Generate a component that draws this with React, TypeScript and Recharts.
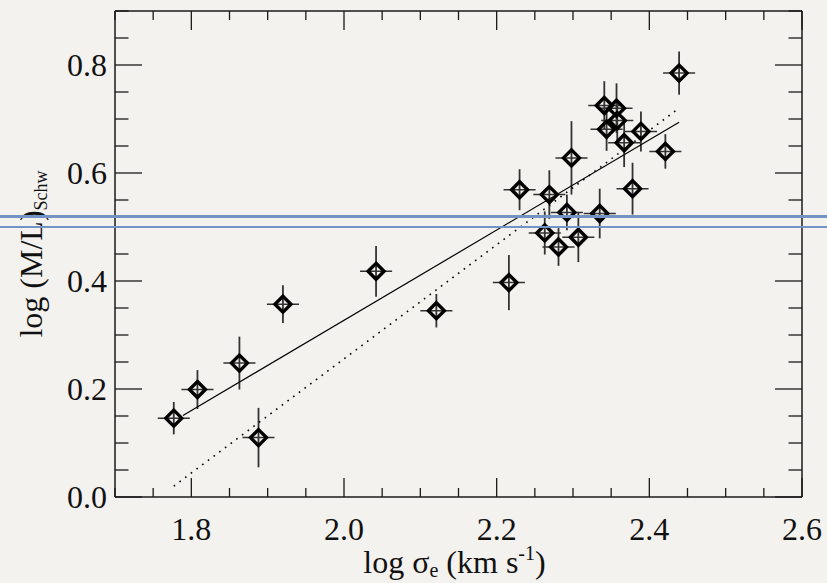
import { ScatterChart, Scatter, XAxis, YAxis, ErrorBar } from 'recharts';

// log sigma_e and log (M/L)_Schw
const logSigma = [1.777, 1.808, 1.863, 1.888, 1.92, 2.042, 2.121, 2.216, 2.23, 2.269, 2.263, 2.281, 2.292, 2.298, 2.307, 2.335, 2.341, 2.357, 2.358, 2.344, 2.389, 2.367, 2.421, 2.378, 2.439];
const logML = [0.146, 0.199, 0.248, 0.11, 0.357, 0.418, 0.345, 0.397, 0.569, 0.56, 0.489, 0.463, 0.527, 0.628, 0.481, 0.525, 0.725, 0.72, 0.697, 0.681, 0.677, 0.656, 0.64, 0.571, 0.785];
const sigmaErr = [0.021, 0.021, 0.021, 0.021, 0.021, 0.021, 0.021, 0.021, 0.021, 0.021, 0.021, 0.021, 0.021, 0.021, 0.021, 0.021, 0.021, 0.021, 0.021, 0.021, 0.021, 0.021, 0.021, 0.021, 0.021];
const mlErr = [0.03, 0.036, 0.049, 0.055, 0.035, 0.047, 0.031, 0.051, 0.038, 0.045, 0.04, 0.035, 0.033, 0.068, 0.046, 0.046, 0.045, 0.046, 0.04, 0.04, 0.037, 0.045, 0.032, 0.048, 0.04];

// fit lines (end points)
const fitSolid = [{ x: 1.789, y: 0.151 }, { x: 2.439, y: 0.694 }];
const fitDotted = [{ x: 1.777, y: 0.02 }, { x: 2.439, y: 0.72 }];

const xTicks = [1.7, 1.75, 1.8, 1.85, 1.9, 1.95, 2.0, 2.05, 2.1, 2.15, 2.2, 2.25, 2.3, 2.35, 2.4, 2.45, 2.5, 2.55, 2.6];
const xMajor = [1.8, 2.0, 2.2, 2.4, 2.6];
const yTicks = [0, 0.05, 0.1, 0.15, 0.2, 0.25, 0.3, 0.35, 0.4, 0.45, 0.5, 0.55, 0.6, 0.65, 0.7, 0.75, 0.8, 0.85, 0.9];
const yMajor = [0, 0.2, 0.4, 0.6, 0.8];

const points = logSigma.map((x, i) => ({ x, y: logML[i], ex: sigmaErr[i], ey: mlErr[i] }));

const FONT = '"Liberation Serif", "DejaVu Serif", serif';
const INK = '#1a1a1a';
const BG = '#f4f2ee';

const isMajor = (v: number, list: number[]) => list.some((m) => Math.abs(m - v) < 1e-6);

const BottomTick = (props: any) => {
  const { x, y, payload } = props;
  const major = isMajor(payload.value, xMajor);
  return (
    <g>
      <line x1={x} x2={x} y1={y} y2={y - (major ? 19 : 9)} stroke={INK} strokeWidth={1.3} />
      {major && (
        <text x={x} y={y + 43} textAnchor="middle" fontFamily={FONT} fontSize={32} fill="#111">
          {payload.value.toFixed(1)}
        </text>
      )}
    </g>
  );
};

const TopTick = (props: any) => {
  const { x, y, payload } = props;
  const major = isMajor(payload.value, xMajor);
  return <line x1={x} x2={x} y1={y} y2={y + (major ? 19 : 9)} stroke={INK} strokeWidth={1.3} />;
};

const LeftTick = (props: any) => {
  const { x, y, payload } = props;
  const major = isMajor(payload.value, yMajor);
  return (
    <g>
      <line x1={x} x2={x + (major ? 27 : 13.5)} y1={y} y2={y} stroke={INK} strokeWidth={1.3} />
      {major && (
        <text x={x - 8} y={y + 11} textAnchor="end" fontFamily={FONT} fontSize={32} fill="#111">
          {payload.value.toFixed(1)}
        </text>
      )}
    </g>
  );
};

const RightTick = (props: any) => {
  const { x, y, payload } = props;
  const major = isMajor(payload.value, yMajor);
  return <line x1={x} x2={x - (major ? 27 : 13.5)} y1={y} y2={y} stroke={INK} strokeWidth={1.3} />;
};

const Diamond = (props: any) => {
  const { cx, cy } = props;
  const r = 8;
  return (
    <path
      d={`M${cx},${cy - r}L${cx + r},${cy}L${cx},${cy + r}L${cx - r},${cy}Z`}
      fill="none"
      stroke="#000"
      strokeWidth={3.4}
      strokeLinejoin="miter"
    />
  );
};

const XTitle = (props: any) => {
  const { viewBox } = props;
  const cx = viewBox.x + viewBox.width / 2 - 4;
  const y = viewBox.y + 76;
  return (
    <text x={cx} y={y} textAnchor="middle" fontFamily={FONT} fontSize={32} fill="#111">
      log <tspan>σ</tspan>
      <tspan fontSize={20} dy={4}>e</tspan>
      <tspan dy={-4}> (km s</tspan>
      <tspan fontSize={20} dy={-13}>-1</tspan>
      <tspan dy={13}>)</tspan>
    </text>
  );
};

const YTitle = (props: any) => {
  const { viewBox } = props;
  const x = 42;
  const cy = viewBox.y + viewBox.height / 2;
  return (
    <text
      x={x}
      y={cy}
      transform={`rotate(-90 ${x} ${cy})`}
      textAnchor="middle"
      fontFamily={FONT}
      fontSize={32}
      fill="#111"
    >
      log (M/L)
      <tspan fontSize={18} dy={5}>Schw</tspan>
    </text>
  );
};

const axisLine = { stroke: INK, strokeWidth: 1.5 };

export default function App() {
  return (
    <div style={{ position: 'absolute', left: 0, top: 0, width: 827, height: 583, background: BG, overflow: 'hidden' }}>
      <ScatterChart width={827} height={583} margin={{ top: 10, right: 24, bottom: 85, left: 114 }}>
        <XAxis
          xAxisId="b"
          type="number"
          dataKey="x"
          domain={[1.7, 2.6]}
          ticks={xTicks}
          interval={0}
          height={1}
          tickSize={0}
          tickMargin={0}
          tickLine={false}
          tick={<BottomTick />}
          axisLine={axisLine}
          allowDataOverflow
          label={<XTitle />}
        />
        <XAxis
          xAxisId="t"
          orientation="top"
          type="number"
          dataKey="x"
          domain={[1.7, 2.6]}
          ticks={xTicks}
          interval={0}
          height={1}
          tickSize={0}
          tickMargin={0}
          tickLine={false}
          tick={<TopTick />}
          axisLine={axisLine}
          allowDataOverflow
        />
        <YAxis
          yAxisId="l"
          type="number"
          dataKey="y"
          domain={[0, 0.9]}
          ticks={yTicks}
          interval={0}
          width={1}
          tickSize={0}
          tickMargin={0}
          tickLine={false}
          tick={<LeftTick />}
          axisLine={axisLine}
          allowDataOverflow
          label={<YTitle />}
        />
        <YAxis
          yAxisId="r"
          orientation="right"
          type="number"
          dataKey="y"
          domain={[0, 0.9]}
          ticks={yTicks}
          interval={0}
          width={1}
          tickSize={0}
          tickMargin={0}
          tickLine={false}
          tick={<RightTick />}
          axisLine={axisLine}
          allowDataOverflow
        />
        <Scatter
          xAxisId="b"
          yAxisId="l"
          data={fitSolid}
          line={{ stroke: '#000', strokeWidth: 1.2 }}
          shape={() => <g />}
          isAnimationActive={false}
        />
        <Scatter
          xAxisId="b"
          yAxisId="l"
          data={fitDotted}
          line={{ stroke: '#000', strokeWidth: 1.6, strokeDasharray: '1.6 5.5' }}
          shape={() => <g />}
          isAnimationActive={false}
        />
        <Scatter xAxisId="b" yAxisId="l" data={points} shape={<Diamond />} isAnimationActive={false}>
          <ErrorBar dataKey="ey" direction="y" width={0} stroke="#333" strokeWidth={1.8} />
          <ErrorBar dataKey="ex" direction="x" width={0} stroke="#333" strokeWidth={1.5} />
        </Scatter>
      </ScatterChart>
      <div style={{ position: 'absolute', left: 0, top: 215.3, width: 827, height: 2.7, background: '#7393c6' }} />
      <div style={{ position: 'absolute', left: 0, top: 225.7, width: 827, height: 2.7, background: '#7393c6' }} />
    </div>
  );
}
